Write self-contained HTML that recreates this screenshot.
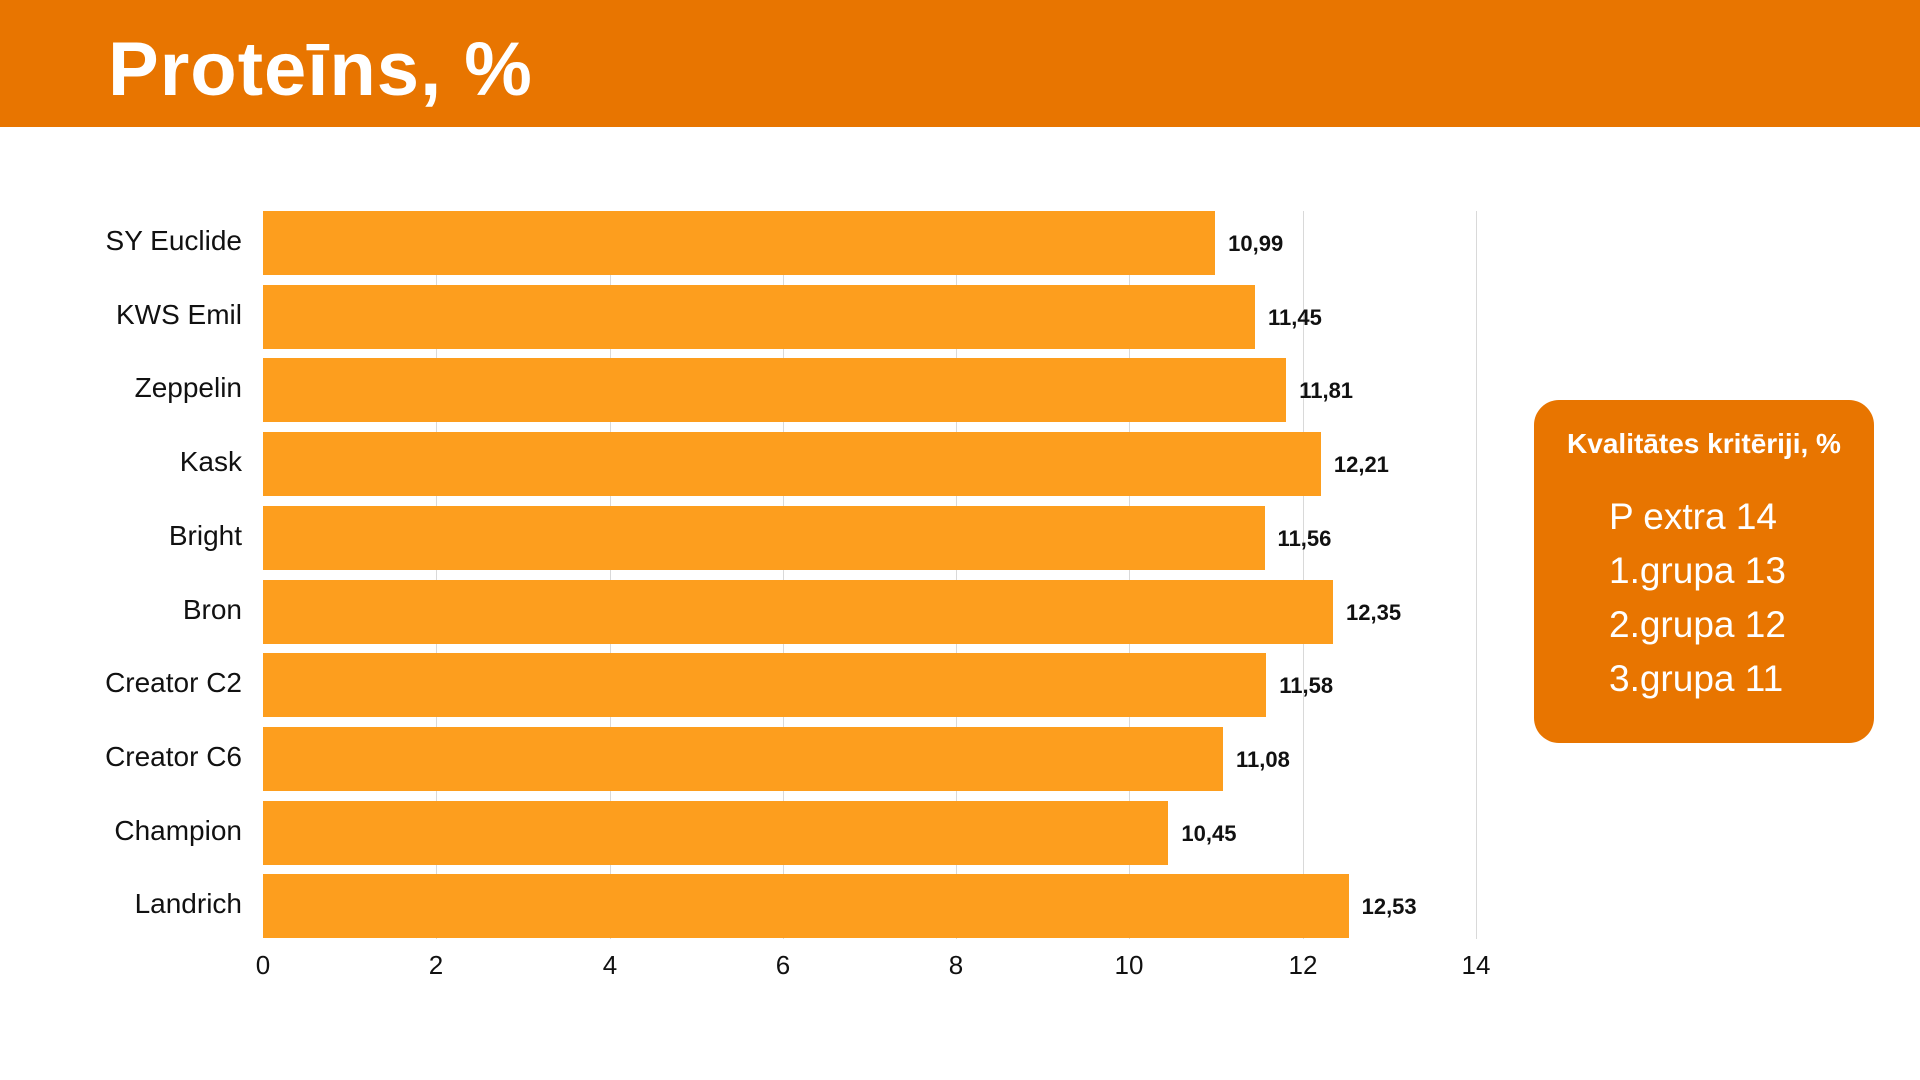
<!DOCTYPE html>
<html><head><meta charset="utf-8"><style>
body{margin:0;width:1920px;height:1080px;background:#fff;position:relative;overflow:hidden;font-family:"Liberation Sans",sans-serif;}
.hdr{position:absolute;left:0;top:0;width:1920px;height:127px;background:#e87500;}
.ttl{position:absolute;left:108px;top:26px;font-size:76px;font-weight:bold;color:#fff;letter-spacing:1px;}
.grid{position:absolute;top:211px;width:1px;height:728px;background:#d9d9d9;}
.bar{position:absolute;left:263px;height:64px;background:#fd9e1e;}
.lab{position:absolute;width:242px;left:0;text-align:right;font-size:28px;color:#111;}
.val{position:absolute;font-size:22px;font-weight:bold;color:#111;}
.tick{position:absolute;top:950px;width:60px;margin-left:-30px;text-align:center;font-size:26px;color:#111;}
.leg{position:absolute;left:1534px;top:400px;width:340px;height:343px;background:#e87500;border-radius:25px;color:#fff;}
</style></head><body>
<div class="hdr"></div><div class="ttl">Proteīns, %</div>
<div class="grid" style="left:436px"></div><div class="grid" style="left:610px"></div><div class="grid" style="left:783px"></div><div class="grid" style="left:956px"></div><div class="grid" style="left:1129px"></div><div class="grid" style="left:1303px"></div><div class="grid" style="left:1476px"></div>
<div id="c"></div>
<div class="tick" style="left:263px">0</div><div class="tick" style="left:436px">2</div><div class="tick" style="left:610px">4</div><div class="tick" style="left:783px">6</div><div class="tick" style="left:956px">8</div><div class="tick" style="left:1129px">10</div><div class="tick" style="left:1303px">12</div><div class="tick" style="left:1476px">14</div>
<div class="leg">
<div style="position:absolute;top:28px;width:100%;text-align:center;font-size:28px;font-weight:bold">Kvalitātes kritēriji, %</div>
<div style="position:absolute;left:75px;top:90px;font-size:37px;line-height:54px">P extra 14<br>1.grupa 13<br>2.grupa 12<br>3.grupa 11</div>
</div>
<script>
var d=[["SY Euclide",10.99],["KWS Emil",11.45],["Zeppelin",11.81],["Kask",12.21],["Bright",11.56],["Bron",12.35],["Creator C2",11.58],["Creator C6",11.08],["Champion",10.45],["Landrich",12.53]];
var h="";d.forEach(function(r,i){var t=211+i*73.7,w=r[1]*86.64;
h+='<div class="bar" style="top:'+t+'px;width:'+w+'px"></div>';
h+='<div class="lab" style="top:'+(t+14)+'px">'+r[0]+'</div>';
h+='<div class="val" style="top:'+(t+20)+'px;left:'+(263+w+13)+'px">'+r[1].toFixed(2).replace(".",",")+'</div>';});
document.getElementById("c").innerHTML=h;
</script>
</body></html>
